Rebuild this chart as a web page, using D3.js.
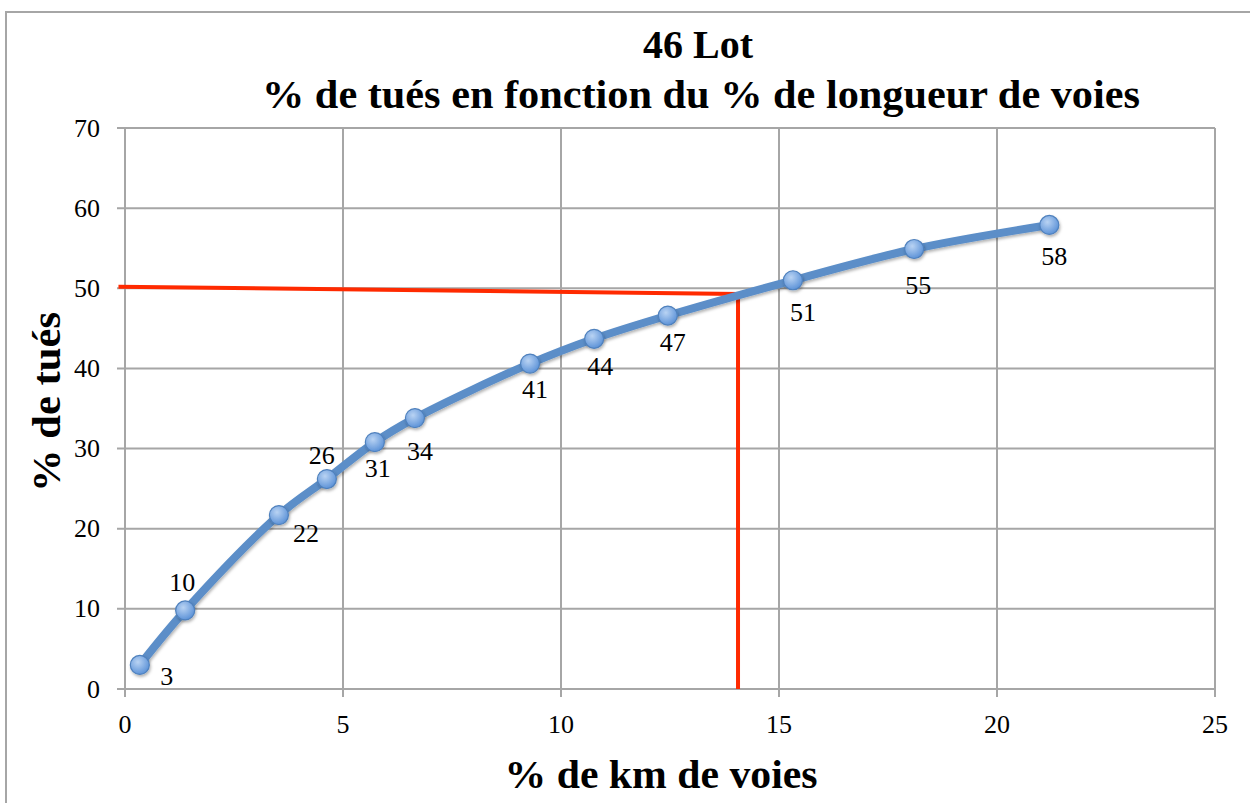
<!DOCTYPE html>
<html><head><meta charset="utf-8">
<script src="https://cdn.jsdelivr.net/npm/d3@7"></script>
<style>html,body{margin:0;padding:0;background:#fff;}</style>
</head><body>
<svg id="c" width="1250" height="803"></svg>
<script>
const titleLines = ["46 Lot", "% de tués en fonction du % de longueur de voies"];
const xTitle = "% de km de voies";
const yTitle = "% de tués";
const xTicks = [0, 5, 10, 15, 20, 25];
const yTicks = [0, 10, 20, 30, 40, 50, 60, 70];
const xValues = [0.34, 1.38, 3.53, 4.63, 5.73, 6.65, 9.29, 10.76, 12.45, 15.32, 18.10, 21.20];
const yValues = [3.0, 9.8, 21.7, 26.2, 30.8, 33.8, 40.6, 43.7, 46.6, 51.0, 54.9, 57.9];
const pointLabels = ["3", "10", "22", "26", "31", "34", "41", "44", "47", "51", "55", "58"];
const labelOffsets = [[27,11],[-3,-28],[27,18],[-5,-24],[3,26],[5,33],[5,26],[6,28],[5,27],[10,32],[4,36],[5,31]];
const refLineX = [-0.15, 14.06, 14.06];
const refLineY = [50.2, 49.3, 0];

const svg = d3.select("#c");
const x = d3.scaleLinear().domain([0,25]).range([125, 1215]);
const y = d3.scaleLinear().domain([0,70]).range([689, 128]);

// outer frame
svg.append("rect").attr("x",6).attr("y",12).attr("width",1260).attr("height",820)
  .attr("fill","none").attr("stroke","#a6a6a6").attr("stroke-width",2);

const grid = "#a6a6a6";
svg.append("g").selectAll("line").data(yTicks).join("line")
  .attr("x1", 117).attr("x2", x(25)).attr("y1", d=>y(d)).attr("y2", d=>y(d))
  .attr("stroke", grid).attr("stroke-width", 2);
svg.append("g").selectAll("line").data(xTicks).join("line")
  .attr("x1", d=>x(d)).attr("x2", d=>x(d)).attr("y1", y(70)).attr("y2", y(0)+8)
  .attr("stroke", grid).attr("stroke-width", 2);

// tick labels
svg.append("g").selectAll("text").data(yTicks).join("text")
  .attr("x", 100).attr("y", d=>y(d)).attr("dy","0.33em").attr("text-anchor","end")
  .attr("font-family","Liberation Serif").attr("font-size",26).text(d=>d);
svg.append("g").selectAll("text").data(xTicks).join("text")
  .attr("x", d=>x(d)).attr("y", 733).attr("text-anchor","middle")
  .attr("font-family","Liberation Serif").attr("font-size",26).text(d=>d);

// titles
svg.append("text").attr("x",698).attr("y",58).attr("text-anchor","middle")
  .attr("font-family","Liberation Serif").attr("font-weight","bold").attr("font-size",40)
  .text(titleLines[0]);
svg.append("text").attr("x",701).attr("y",108).attr("text-anchor","middle")
  .attr("font-family","Liberation Serif").attr("font-weight","bold").attr("font-size",40)
  .attr("textLength",878).attr("lengthAdjust","spacingAndGlyphs")
  .text(titleLines[1]);
svg.append("text").attr("x",661).attr("y",788).attr("text-anchor","middle")
  .attr("font-family","Liberation Serif").attr("font-weight","bold").attr("font-size",40)
  .attr("textLength",313).attr("lengthAdjust","spacingAndGlyphs")
  .text(xTitle);
svg.append("text").attr("transform","translate(60,402) rotate(-90)").attr("text-anchor","middle")
  .attr("font-family","Liberation Serif").attr("font-weight","bold").attr("font-size",40)
  .attr("textLength",180).attr("lengthAdjust","spacingAndGlyphs")
  .text(yTitle);

// reference red line
const pts = refLineX.map((d,i)=>[x(d), y(refLineY[i])]);
svg.append("path").attr("d", d3.line()(pts)).attr("fill","none")
  .attr("stroke","#ff2a00").attr("stroke-width",4).attr("stroke-linejoin","miter");

// series
const defs = svg.append("defs");
const grad = defs.append("radialGradient").attr("id","mk").attr("cx","40%").attr("cy","35%").attr("r","65%");
grad.append("stop").attr("offset","0%").attr("stop-color","#b9d3f3");
grad.append("stop").attr("offset","100%").attr("stop-color","#5d93d8");
const flt = defs.append("filter").attr("id","sh").attr("x","-50%").attr("y","-50%").attr("width","200%").attr("height","200%");
flt.append("feDropShadow").attr("dx",1).attr("dy",2).attr("stdDeviation",1.5).attr("flood-color","#000").attr("flood-opacity",0.3);

const data = xValues.map((d,i)=>({x:d, y:yValues[i], lab:pointLabels[i], off:labelOffsets[i]}));
svg.append("path").datum(data)
  .attr("d", d3.line().x(d=>x(d.x)).y(d=>y(d.y)).curve(d3.curveCatmullRom.alpha(0.5)))
  .attr("fill","none").attr("stroke","#5b8ec8").attr("stroke-width",8).attr("stroke-linecap","round")
  .attr("filter","url(#sh)");
svg.append("g").selectAll("circle").data(data).join("circle")
  .attr("cx", d=>x(d.x)).attr("cy", d=>y(d.y)).attr("r", 9.5)
  .attr("fill","url(#mk)").attr("stroke","#4f81bd").attr("stroke-width",1.2).attr("filter","url(#sh)");
svg.append("g").selectAll("text").data(data).join("text")
  .attr("x", d=>x(d.x)+d.off[0]).attr("y", d=>y(d.y)+d.off[1]).attr("dy","0.33em")
  .attr("text-anchor","middle").attr("font-family","Liberation Serif").attr("font-size",26)
  .text(d=>d.lab);
</script>
</body></html>
